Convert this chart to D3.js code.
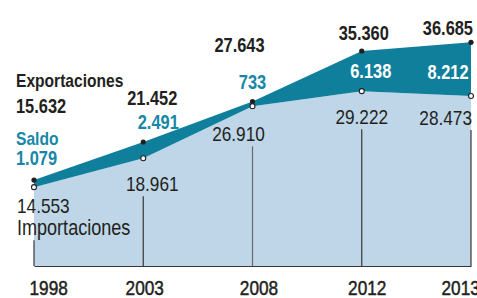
<!DOCTYPE html>
<html>
<head>
<meta charset="utf-8">
<script src="https://cdn.jsdelivr.net/npm/d3@7"></script>
<style>
    body { margin: 0; background: #fff; }
    svg { display: block; }
    .num { font-family: "Liberation Sans", Arial, sans-serif; }
</style>
</head>
<body>
<svg id="chart" width="477" height="298"></svg>
<script>
const years = ['1998', '2003', '2008', '2012', '2013'];
const exportaciones = [15632, 21452, 27643, 35360, 36685];
const importaciones = [14553, 18961, 26910, 29222, 28473];
const saldo = [1079, 2491, 733, 6138, 8212];
const seriesNames = ['Exportaciones', 'Saldo', 'Importaciones'];

// where each label sits, relative to its point: anchor, dx, dy (saldo: 'band' = inside the teal band)
const expPos = [['start', -18, -67], ['middle', 9, -37], ['middle', -13, -50], ['middle', 2, -11], ['end', 2, -7]];
const salPos = [['start', -18, -15], ['middle', 15, -13], ['middle', 0, -12], ['middle', 9, 7, 'band'], ['middle', -23, 10, 'band']];
const impPos = [['start', -17, 26], ['middle', 9, 33], ['middle', -14, 35], ['middle', 0, 33], ['end', 1, 29]];

const TEAL = '#0f7f9c', LIGHT = '#bed6e7', INK = '#231f20', TEAL_TXT = '#1787a8';
const SQUEEZE = 0.82; // condensed look

let margin = {top: 37, right: 6, bottom: 32, left: 34},
    width = 477 - margin.left - margin.right,
    height = 298 - margin.top - margin.bottom;

let fmt = d3.formatLocale({decimal: ',', thousands: '.', grouping: [3], currency: ['', '']}).format(',d');

let x = d3.scalePoint().domain(years).range([0, width]);
let y = d3.scaleLinear().domain([2500, 37500]).range([height, 0]);

let data = years.map((yr, i) => ({year: yr, exp: exportaciones[i], imp: importaciones[i], sal: saldo[i]}));

let svg = d3.select('#chart')
    .append('g')
    .attr('transform', 'translate(' + margin.left + ',' + margin.top + ')');

function condense(sel) {
    sel.each(function() {
        let w = this.getComputedTextLength();
        d3.select(this).attr('textLength', w * SQUEEZE).attr('lengthAdjust', 'spacingAndGlyphs');
    });
}

// Importaciones area
svg.append('path')
    .datum(data)
    .attr('fill', LIGHT)
    .attr('d', d3.area().x(d => x(d.year)).y0(height).y1(d => y(d.imp)));

// Saldo band between the two lines
svg.append('path')
    .datum(data)
    .attr('fill', TEAL)
    .attr('d', d3.area().x(d => x(d.year)).y0(d => y(d.imp)).y1(d => y(d.exp)));

// vertical guides under the import labels
svg.selectAll('.guide')
    .data(data)
    .enter().append('line')
    .attr('class', 'guide')
    .attr('x1', d => x(d.year))
    .attr('x2', d => x(d.year))
    .attr('y1', (d, i) => y(d.imp) + impPos[i][2] + (i === 0 ? 27 : 5))
    .attr('y2', height)
    .attr('stroke', (d, i) => i === 2 ? '#6a6a6a' : '#3a3535')
    .attr('stroke-width', 1.2);

// X axis
let axis = svg.append('g')
    .attr('transform', 'translate(0,' + height + ')')
    .call(d3.axisBottom(x).tickSize(0).tickPadding(14));
axis.attr('font-family', null).attr('font-size', null);
axis.select('.domain').attr('stroke', '#3a3535').attr('stroke-width', 1.2);
axis.selectAll('text')
    .attr('class', 'num')
    .attr('font-size', 21)
    .attr('fill', INK)
    .attr('stroke', INK)
    .attr('stroke-width', 0.5)
    .attr('text-anchor', (d, i) => i === 0 || i === 4 ? 'start' : 'middle')
    .attr('dx', (d, i) => [-5, 1, 6, 5, -30][i])
    .call(condense);

// dots
svg.selectAll('.dotExp')
    .data(data)
    .enter().append('circle')
    .attr('cx', d => x(d.year))
    .attr('cy', d => y(d.exp))
    .attr('r', 2.6)
    .attr('fill', INK);

svg.selectAll('.dotImp')
    .data(data)
    .enter().append('circle')
    .attr('cx', d => x(d.year))
    .attr('cy', d => y(d.imp))
    .attr('r', 2.5)
    .attr('fill', '#fff')
    .attr('stroke', INK)
    .attr('stroke-width', 1.1);

function labels(cls, pos, value, yPos, color, size, weight) {
    svg.selectAll('.' + cls)
        .data(data)
        .enter().append('text')
        .attr('class', 'num ' + cls)
        .attr('x', (d, i) => x(d.year) + pos[i][1])
        .attr('y', (d, i) => yPos(d, i) + pos[i][2])
        .attr('text-anchor', (d, i) => pos[i][0])
        .attr('font-size', size)
        .attr('font-weight', weight)
        .attr('fill', (d, i) => typeof color === 'function' ? color(i) : color)
        .text(d => fmt(value(d)))
        .call(condense);
}

labels('lblExp', expPos, d => d.exp, d => y(d.exp), INK, 20, 'bold');
labels('lblSal', salPos, d => d.sal,
    (d, i) => salPos[i][3] === 'band' ? (y(d.exp) + y(d.imp)) / 2 : y(d.exp),
    i => salPos[i][3] === 'band' ? '#fff' : TEAL_TXT, 20, 'bold');
labels('lblImp', impPos, d => d.imp, d => y(d.imp), INK, 21, 'normal');

// series names next to the first values
let first = data[0];
svg.append('text').attr('class', 'num')
    .attr('x', x(first.year) + expPos[0][1]).attr('y', y(first.exp) + expPos[0][2] - 26)
    .attr('font-size', 19).attr('font-weight', 'bold').attr('fill', INK)
    .text(seriesNames[0]).call(condense);
svg.append('text').attr('class', 'num')
    .attr('x', x(first.year) + salPos[0][1]).attr('y', y(first.exp) + salPos[0][2] - 20)
    .attr('font-size', 19).attr('font-weight', 'bold').attr('fill', TEAL_TXT)
    .text(seriesNames[1]).call(condense);
svg.append('text').attr('class', 'num')
    .attr('x', x(first.year) + impPos[0][1]).attr('y', y(first.imp) + impPos[0][2] + 22)
    .attr('font-size', 22).attr('fill', INK)
    .text(seriesNames[2]).call(condense);
</script>
</body>
</html>
